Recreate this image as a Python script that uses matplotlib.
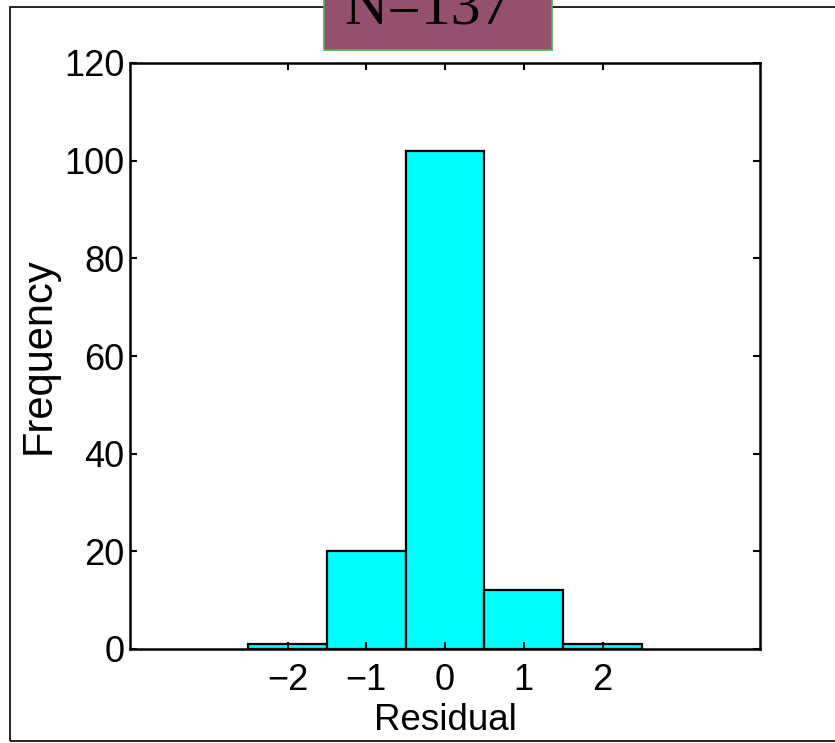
import matplotlib.pyplot as plt
from matplotlib.patches import Rectangle

# Histogram of residuals
residual_bins = [-2, -1, 0, 1, 2]
frequency = [1, 20, 102, 12, 1]
n_total = 137

plt.rcParams['font.family'] = ['Liberation Sans', 'DejaVu Sans']

fig = plt.figure(figsize=(8.35, 7.43), dpi=100)
fig.patch.set_facecolor('white')

ax = fig.add_axes([130 / 835, 94 / 743, 630 / 835, 586 / 743])
ax.bar(residual_bins, frequency, width=1.0, color='#00ffff',
       edgecolor='black', linewidth=1.6)

ax.set_xlim(-4, 4)
ax.set_ylim(0, 120)
ax.set_xticks(residual_bins)
ax.set_xticklabels(['\u22122', '\u22121', '0', '1', '2'])
ax.set_yticks(range(0, 121, 20))
ax.tick_params(direction='in', length=5, width=1.5, labelsize=26,
               top=True, right=True, pad=4)
ax.tick_params(axis='x', pad=10)
for s in ax.spines.values():
    s.set_linewidth(1.8)

ax.set_xlabel('Residual', fontsize=26.5, labelpad=4)
ax.set_ylabel('Frequency', fontsize=30, labelpad=4)

# outer frame
fig.patches.append(Rectangle((10 / 835, 2 / 743), 1.0, 734 / 743,
                             transform=fig.transFigure, fill=False,
                             edgecolor='black', linewidth=1.2, clip_on=False))

# sample size box
fig.patches.append(Rectangle((324 / 835, 693 / 743), 228 / 835, 0.1,
                             transform=fig.transFigure, facecolor='#955070',
                             edgecolor='#4caf50', linewidth=1.2, zorder=5))
fig.text(428 / 835, (743 - 23) / 743, f'N={n_total}', family='Liberation Serif',
         fontsize=43, ha='center', va='baseline', color='black', zorder=6)

fig.savefig('out.png', dpi=100)
